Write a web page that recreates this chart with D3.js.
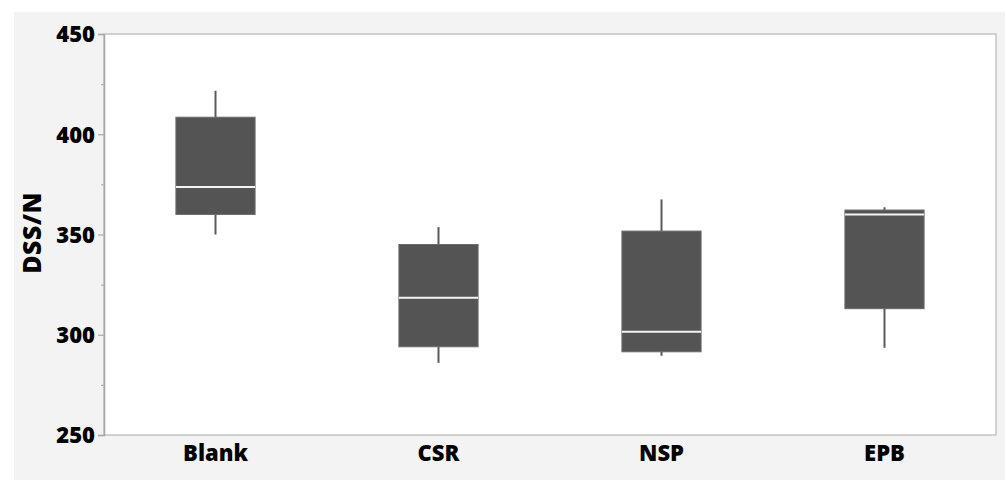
<!DOCTYPE html>
<html>
<head>
<meta charset="utf-8">
<script src="https://cdn.jsdelivr.net/npm/d3@7"></script>
<style>
  html, body { margin: 0; padding: 0; background: #ffffff; }
  svg { display: block; }
  text { font-family: "Open Sans", "Noto Sans", sans-serif; font-weight: 800; fill: #000; }
</style>
</head>
<body>
<svg id="chart" width="1006" height="482"></svg>
<script>
// Box-plot summary per group (DSS/N)
const categories = ["Blank", "CSR", "NSP", "EPB"];
const mins    = [350.0, 286.0, 289.5, 293.5];
const q1s     = [360.0, 294.0, 291.5, 313.0];
const medians = [373.7, 318.5, 301.5, 360.0];
const q3s     = [408.5, 345.0, 351.7, 362.2];
const maxs    = [421.7, 353.7, 367.5, 363.6];
const yTicks  = [250, 300, 350, 400, 450];
const yMinor  = [275, 325, 375, 425];
const yTitle  = "DSS/N";

const boxes = categories.map((c, i) => ({
  cat: c, min: mins[i], q1: q1s[i], med: medians[i], q3: q3s[i], max: maxs[i]
}));

const plot = { left: 104, top: 34, right: 996, bottom: 435 };

const svg = d3.select("#chart");

// panel background
svg.append("rect")
  .attr("x", 14).attr("y", 12)
  .attr("width", 991).attr("height", 468)
  .attr("fill", "#f3f3f3");

svg.append("rect")
  .attr("x", plot.left).attr("y", plot.top)
  .attr("width", plot.right - plot.left).attr("height", plot.bottom - plot.top)
  .attr("fill", "#ffffff")
  .attr("stroke", "#c4c4c4").attr("stroke-width", 1.5);

const x = d3.scaleBand()
  .domain(categories)
  .range([plot.left, plot.right])
  .paddingInner(0).paddingOuter(0);

const y = d3.scaleLinear()
  .domain([250, 450])
  .range([plot.bottom, plot.top]);

// y axis
const yAxis = svg.append("g")
  .attr("transform", `translate(${plot.left},0)`)
  .call(d3.axisLeft(y).tickValues(yTicks).tickSize(6).tickPadding(3).tickFormat(d3.format("d")));
yAxis.select(".domain").attr("stroke", "#a8a8a8").attr("stroke-width", 1.5);
yAxis.selectAll(".tick line").attr("stroke", "#a8a8a8").attr("stroke-width", 1.2);
yAxis.selectAll(".tick text")
  .attr("font-size", 22).attr("font-family", "'Open Sans', sans-serif")
  .attr("font-weight", 800).attr("fill", "#000").attr("dy", "0.36em");

const yMinorAxis = svg.append("g")
  .attr("transform", `translate(${plot.left},0)`)
  .call(d3.axisLeft(y).tickValues(yMinor).tickSize(3).tickFormat(""));
yMinorAxis.select(".domain").remove();
yMinorAxis.selectAll(".tick line").attr("stroke", "#b0b0b0").attr("stroke-width", 1.2);

// x axis labels
const xAxis = svg.append("g")
  .attr("transform", `translate(0,${plot.bottom})`)
  .call(d3.axisBottom(x).tickSize(0).tickPadding(10));
xAxis.select(".domain").remove();
xAxis.selectAll(".tick text")
  .attr("font-size", 22).attr("font-family", "'Open Sans', sans-serif")
  .attr("font-weight", 800).attr("fill", "#000").attr("dy", "0.71em");

// y axis title
svg.append("text")
  .attr("transform", `translate(41,233) rotate(-90)`)
  .attr("text-anchor", "middle")
  .attr("font-size", 25)
  .attr("letter-spacing", 0.5)
  .text(yTitle);

// boxes
const boxW = x.bandwidth() * 0.355;
const g = svg.append("g");
const groups = g.selectAll("g.box").data(boxes).join("g").attr("class", "box");

groups.append("line")
  .attr("x1", d => x(d.cat) + x.bandwidth() / 2)
  .attr("x2", d => x(d.cat) + x.bandwidth() / 2)
  .attr("y1", d => y(d.max)).attr("y2", d => y(d.q3))
  .attr("stroke", "#5a5a5a").attr("stroke-width", 2);

groups.append("line")
  .attr("x1", d => x(d.cat) + x.bandwidth() / 2)
  .attr("x2", d => x(d.cat) + x.bandwidth() / 2)
  .attr("y1", d => y(d.q1)).attr("y2", d => y(d.min))
  .attr("stroke", "#5a5a5a").attr("stroke-width", 2);

groups.append("rect")
  .attr("x", d => x(d.cat) + (x.bandwidth() - boxW) / 2)
  .attr("width", boxW)
  .attr("y", d => y(d.q3))
  .attr("height", d => y(d.q1) - y(d.q3))
  .attr("fill", "#545454")
  .attr("stroke", "#6a6a6a").attr("stroke-width", 1);

groups.append("line")
  .attr("x1", d => x(d.cat) + (x.bandwidth() - boxW) / 2)
  .attr("x2", d => x(d.cat) + (x.bandwidth() + boxW) / 2)
  .attr("y1", d => y(d.med)).attr("y2", d => y(d.med))
  .attr("stroke", "#f4f4f4").attr("stroke-width", 2);
</script>
</body>
</html>
